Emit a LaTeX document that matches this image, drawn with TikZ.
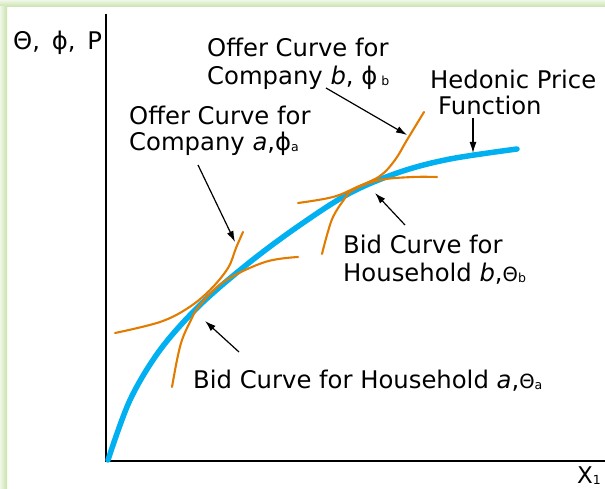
\documentclass[tikz,border=0pt]{standalone}
\usepackage{fontspec}
\setmainfont{DejaVu Sans}
\usetikzlibrary{arrows.meta}
\definecolor{hedblue}{RGB}{0,176,240}
\definecolor{curveorange}{RGB}{226,124,0}
\definecolor{frameg}{RGB}{200,226,170}
\definecolor{framel}{RGB}{240,247,232}
\newcommand{\sbs}[1]{\raisebox{-1pt}{\fontsize{12.5}{12.5}\selectfont #1}}
\newcommand{\smth}{{\fontsize{19.5}{19.5}\selectfont Θ}}
\tikzset{
  lbl/.style={anchor=base west, inner sep=0pt, font=\fontsize{24.3}{27}\selectfont},
  ptr/.style={-{Latex[length=11pt,width=7pt]}, line width=1.2pt},
  orangec/.style={draw=curveorange, line width=2.1pt, line cap=round},
  hedonic/.style={draw=hedblue, line width=5.5pt, line cap=round},
  axisline/.style={line width=2.6pt, line join=miter}
}
\begin{document}
\begin{tikzpicture}[x=1pt,y=-1pt]
\path[use as bounding box] (0,0) rectangle (605,489);
% green frame
\shade[top color=framel, bottom color=frameg] (0,0) rectangle (605,7);
\shade[left color=framel, right color=frameg] (0,7) rectangle (7,489);
% axes
\draw[axisline] (106,14) -- (106,461) -- (605,461);
% hedonic price function
\draw[hedonic] plot[smooth, tension=0.55] coordinates {(108,460) (130,400) (160,350) (200,305) (250,262) (300,225) (350,193) (400,172) (450,159) (517,149)};
% offer curve a
\draw[orangec] plot[smooth, tension=0.6] coordinates {(115,333) (160,322) (188,308) (210,290) (228,268) (236,248) (243,232)};
% bid curve a
\draw[orangec] plot[smooth, tension=0.6] coordinates {(172,387) (177,360) (182,340) (190,322) (200,305) (225,281) (265,262) (298,257)};
% offer curve b
\draw[orangec] plot[smooth, tension=0.6] coordinates {(298,203) (333,197) (357,187) (380,176) (395,160) (407,140) (424,112)};
% bid curve b
\draw[orangec] plot[smooth, tension=0.6] coordinates {(322,254) (327,235) (333,217) (343,201) (353,190) (380,180) (413,177) (437,177)};
% labels
\node[lbl] (ylab) at (13,50) {Θ, \,ϕ, \,P};
\node[lbl, font=\fontsize{23}{24}\selectfont] (xlab) at (577,483) {X\sbs{1}};
\node[lbl] (offb1) at (207,57) {Offer Curve for};
\node[lbl] (offb2) at (207,85) {Company \textit{b}, ϕ\,\sbs{b}};
\node[lbl] (hed1) at (430,89) {Hedonic Price};
\node[lbl] (hed2) at (438,115) {Function};
\node[lbl] (offa1) at (129,125) {Offer Curve for};
\node[lbl] (offa2) at (129,151) {Company \textit{a},ϕ\sbs{a}};
\node[lbl] (bidb1) at (343,253) {Bid Curve for};
\node[lbl] (bidb2) at (343,281) {Household \textit{b},\smth\sbs{b}};
\node[lbl] (bida) at (193,388) {Bid Curve for Household \textit{a},\smth\sbs{a}};
% arrow ends
\coordinate (offaT) at (198,165);
\coordinate (offaH) at (235,242);
\coordinate (offbT) at (326,88);
\coordinate (offbH) at (407,135);
\coordinate (hedT) at (473,118);
\coordinate (hedH) at (473,153);
\coordinate (bidbT) at (405,225);
\coordinate (bidbH) at (375,193);
\coordinate (bidaT) at (239,352);
\coordinate (bidaH) at (205,321);
\draw[ptr] (offaT) -- (offaH);
\draw[ptr] (offbT) -- (offbH);
\draw[ptr] (hedT) -- (hedH);
\draw[ptr] (bidbT) -- (bidbH);
\draw[ptr] (bidaT) -- (bidaH);
\end{tikzpicture}
\end{document}
